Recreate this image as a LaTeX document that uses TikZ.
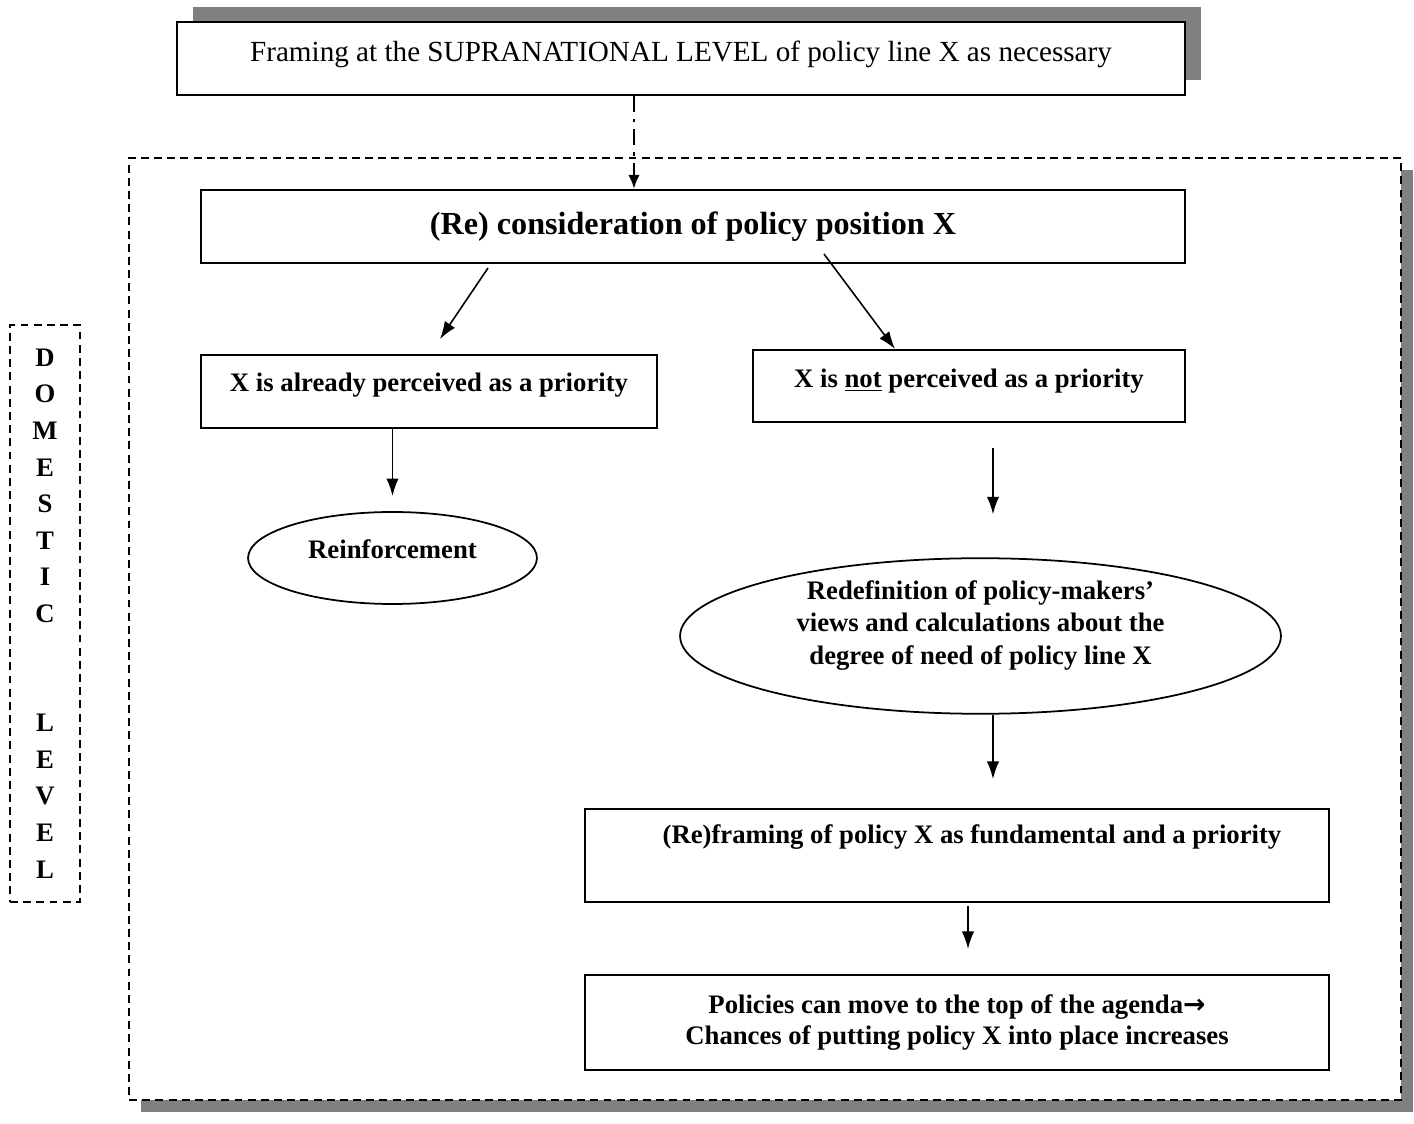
\documentclass[tikz,border=0pt]{standalone}
\usepackage{fontspec}
\setmainfont{Liberation Serif}
\newfontfamily\arrowfont{DejaVu Sans}
\usetikzlibrary{shapes.geometric, arrows.meta, shadows}
\definecolor{shadowgray}{HTML}{808080}
\tikzstyle{box} = [
  rectangle,
  draw=black,
  line width=1.1pt,
  fill=white,
  text centered,
  inner sep=0pt,
  font=\bfseries\fontsize{15.2}{18.5}\selectfont
]
\tikzstyle{oval} = [
  ellipse,
  draw=black,
  line width=1pt,
  fill=white,
  align=center,
  inner sep=0pt,
  font=\bfseries\fontsize{15.2}{18.3}\selectfont
]
\tikzstyle{dashframe} = [
  rectangle,
  draw=black,
  line width=1.1pt,
  dash pattern=on 4.5pt off 3pt
]
\tikzstyle{arrow} = [line width=0.9pt,-{Latex[length=10pt,width=7pt]}]
\tikzstyle{dashdotarrow} = [line width=1.7pt,dash pattern=on 9pt off 4pt on 2pt off 4pt,-{Latex[length=8pt,width=6.5pt]}]

\begin{document}
\begin{tikzpicture}[x=0.02cm, y=-0.02cm]
    \useasboundingbox (0,0) rectangle (1414,1124);

    % Marco del nivel domestico
    \node (domestic) [dashframe, fill=white, minimum width=25.44cm, minimum height=18.84cm,
      drop shadow={shadow xshift=0.24cm, shadow yshift=-0.24cm, fill=shadowgray, opacity=1}] at (765,629) {};
    \node (levellabel) [dashframe, minimum width=1.4cm, minimum height=11.54cm, align=center,
      font=\bfseries\fontsize{15.2}{20.8}\selectfont] at (45,613.5)
      {D\\O\\M\\E\\S\\T\\I\\C\\[41.6pt]L\\E\\V\\E\\L};

    % Nivel supranacional
    \node (supra) [box, font=\fontsize{16.6}{20}\selectfont, minimum width=20.16cm,
      text height=0.8cm, text depth=0.66cm,
      drop shadow={shadow xshift=0.32cm, shadow yshift=0.3cm, fill=shadowgray, opacity=1}] at (681,58.5)
      {Framing at the SUPRANATIONAL LEVEL of policy line X as necessary};

    % Bloques principales
    \node (recons) [box, font=\bfseries\fontsize{18.3}{22}\selectfont, minimum width=19.68cm,
      text height=0.9cm, text depth=0.56cm] at (693,226.5) {(Re) consideration of policy position X};
    \node (already) [box, minimum width=9.12cm, text height=0.74cm, text depth=0.72cm] at (429,391.5)
      {X is already perceived as a priority};
    \node (notbox) [box, minimum width=8.64cm, text height=0.76cm, text depth=0.68cm] at (969,386)
      {X is \underline{not} perceived as a priority};

    % Elipses
    \node (reinf) [oval, minimum width=5.78cm, minimum height=1.84cm, text height=0.3cm, text depth=0.26cm]
      at (392.5,558) {Reinforcement};
    \node (redef) [oval, minimum width=12.02cm, minimum height=3.04cm] at (980.5,636)
      {Redefinition of policy-makers'\\views and calculations about the\\degree of need of policy line X\\[-3pt]\mbox{}};

    % Bloques inferiores
    \node (reframe) [box, minimum width=14.88cm, text height=0.68cm, text depth=1.18cm] at (957,855.5)
      {\hspace*{0.6cm}(Re)framing of policy X as fundamental and a priority};
    \node (policies) [box, minimum width=14.88cm, minimum height=1.9cm, align=center,
      font=\bfseries\fontsize{15.2}{17.6}\selectfont] at (957,1022.5)
      {Policies can move to the top of the agenda{\arrowfont\bfseries →}\\Chances of putting policy X into place increases};

    % Columnas de las flechas
    \coordinate (drop) at (634,0);
    \coordinate (rcol) at (993,0);
    \coordinate (pcol) at (968,0);

    % Flechas
    \draw [dashdotarrow] (supra.south -| drop) -- (recons.north -| drop);
    \draw [arrow] ([xshift=-4.1cm,yshift=-0.08cm]recons.south) -- ([xshift=0.22cm,yshift=0.3cm]already.north);
    \draw [arrow] ([xshift=2.62cm,yshift=0.2cm]recons.south) -- ([xshift=-1.48cm]notbox.north);
    \draw [arrow, shorten >=0.3cm] (already.south -| reinf) -- (reinf.north);
    \draw [arrow, shorten <=0.5cm, shorten >=0.86cm] (notbox.south -| rcol) -- (redef.north -| rcol);
    \draw [arrow, shorten >=0.58cm] (redef.south -| rcol) -- (reframe.north -| rcol);
    \draw [arrow, shorten <=0.06cm, shorten >=0.5cm] (reframe.south -| pcol) -- (policies.north -| pcol);

\end{tikzpicture}
\end{document}
